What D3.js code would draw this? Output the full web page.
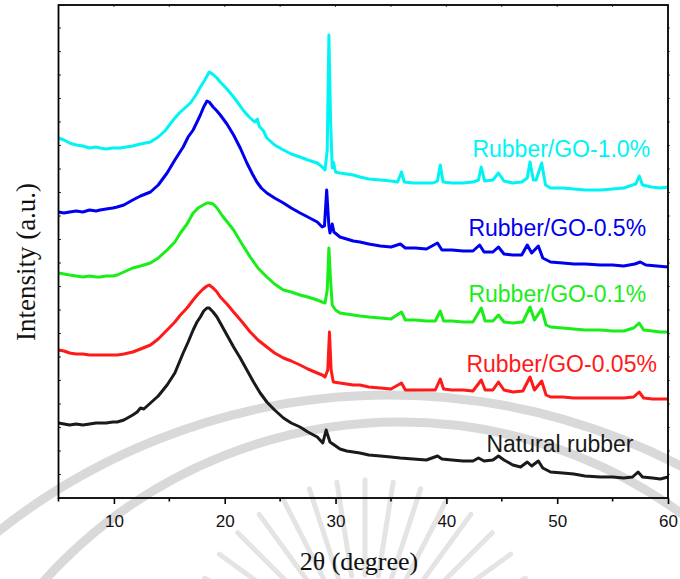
<!DOCTYPE html>
<html><head><meta charset="utf-8">
<script src="https://cdn.jsdelivr.net/npm/d3@7"></script>
<style>body{margin:0;background:#fff}svg{display:block}</style>
</head><body><svg id="c" width="680" height="579"></svg>
<script>
// ---------- DATA (2θ in degrees, intensity in arbitrary units incl. stacking offset) ----------
const seriesNames = ["Natural rubber","Rubber/GO-0.05%","Rubber/GO-0.1%","Rubber/GO-0.5%","Rubber/GO-1.0%"];
const seriesColors = ["#1a1a1a","#ff1a1a","#1aee1a","#0000ee","#00f4f4"];
const xTickValues = [10,20,30,40,50,60];
const xTickLabels = ["10","20","30","40","50","60"];

const naturalRubber = [[5.0,75],[5.5,74],[6.0,73],[6.6,74],[7.2,73],[7.8,74],[8.4,75],[8.75,75],[9.3,75],[9.9,76],[10.3,76],[10.9,78],[11.7,83],[12.1,86],[12.4,90],[12.7,89],[13.3,95],[14.0,102],[14.8,113],[15.5,125],[16.25,145],[16.7,156],[17.15,168],[17.5,176],[17.8,181],[18.1,187],[18.4,190],[18.6,190],[18.95,186],[19.3,181],[19.6,175],[20.2,163],[20.8,151],[21.4,140],[22.0,128],[22.6,116],[23.2,105],[23.8,96],[24.5,88],[25.3,80],[26.0,75],[26.8,71],[27.5,66],[28.35,61],[28.85,55],[29.15,68],[29.35,61],[29.5,56],[30.4,49],[31.0,47],[31.6,46],[32.2,45],[33.0,43],[34.05,42],[35.0,41],[35.85,40],[37.0,39],[38.2,38],[39.2,42],[39.6,39],[40.5,38],[41.5,37],[42.4,37],[42.9,40],[43.4,37],[44.2,38],[44.7,42],[45.2,38],[46.0,33],[46.7,31],[47.3,36],[47.7,32],[48.3,37],[48.7,30],[49.4,26],[50.5,25],[51.5,24],[52.5,22],[53.9,21],[55.0,21],[56.0,20],[56.8,21],[57.3,26],[57.7,21],[58.6,20],[59.3,19],[60.0,21]];

const rubberGO005 = [[5.0,148],[5.5,147],[6.0,145],[6.6,144],[7.2,144],[7.8,143],[8.4,143],[8.75,143],[9.3,143],[9.9,143],[10.3,143],[10.9,144],[11.7,146],[12.4,149],[13.3,153],[14.0,159],[14.8,168],[15.5,176],[16.0,183],[16.6,190],[17.15,198],[17.6,204],[18.05,209],[18.4,212],[18.6,213],[18.95,210],[19.3,206],[19.6,201],[20.2,194],[20.8,186],[21.5,177],[22.3,166],[23.0,158],[23.8,151],[24.5,145],[25.3,140],[26.0,137],[26.8,133],[27.5,129],[28.35,125],[28.8,123],[29.05,121],[29.3,128],[29.45,166],[29.6,128],[29.8,116],[30.4,115],[31.0,114],[31.6,113],[32.2,113],[33.0,111],[34.05,110],[35.0,109],[35.95,115],[36.3,108],[37.2,108],[38.2,108],[39.0,108],[39.45,119],[39.75,109],[40.5,108],[41.5,108],[42.4,107],[43.15,118],[43.5,108],[44.2,108],[44.7,116],[45.2,108],[46.0,106],[46.9,107],[47.55,121],[47.95,108],[48.6,117],[49.0,103],[49.4,101],[50.5,101],[51.5,100],[52.5,100],[53.9,100],[55.0,100],[56.0,100],[56.9,101],[57.4,106],[57.8,100],[58.6,99],[59.3,99],[60.0,99]];

const rubberGO01 = [[5.0,225],[5.5,224],[6.0,223],[6.6,222],[7.2,221],[7.8,222],[8.4,221],[8.75,221],[9.3,222],[9.9,222],[10.3,223],[10.9,226],[11.7,230],[12.4,232],[13.3,235],[14.0,240],[14.8,248],[15.5,256],[16.0,265],[16.6,274],[17.15,285],[17.6,290],[18.05,293],[18.4,295],[18.6,295],[18.95,294],[19.3,290],[19.8,282],[20.8,268],[21.5,255],[22.3,241],[23.0,230],[23.8,221],[24.5,214],[25.3,208],[26.0,206],[26.8,203],[27.5,201],[28.35,198],[28.8,196],[29.05,195],[29.25,208],[29.4,250],[29.55,218],[29.7,193],[30.0,188],[30.4,185],[31.0,184],[31.6,183],[32.2,182],[33.0,181],[34.05,180],[35.0,179],[35.95,186],[36.3,178],[37.2,178],[38.2,177],[39.0,177],[39.45,187],[39.75,177],[40.5,177],[41.5,176],[42.4,176],[43.15,190],[43.5,177],[44.2,177],[44.7,183],[45.2,176],[46.0,175],[46.9,176],[47.55,191],[47.95,178],[48.6,189],[49.0,173],[49.4,171],[50.5,170],[51.5,169],[52.5,168],[53.9,168],[55.0,167],[56.0,167],[56.9,170],[57.4,175],[57.8,168],[58.6,167],[59.3,166],[60.0,166]];

const rubberGO05 = [[5.0,286],[5.5,285],[6.0,286],[6.6,287],[7.2,286],[7.8,288],[8.4,287],[8.75,288],[9.3,289],[9.9,290],[10.3,291],[10.9,293],[11.7,298],[12.4,302],[13.3,306],[14.0,313],[14.8,325],[15.5,338],[16.25,351],[16.7,361],[17.15,368],[17.5,376],[17.8,383],[18.1,391],[18.4,397],[18.6,396],[18.95,391],[19.3,387],[19.6,383],[20.2,374],[20.8,363],[21.4,350],[22.0,335],[22.5,324],[22.9,316],[23.3,310],[23.8,305],[24.5,300],[25.3,295],[26.0,290],[26.8,285],[27.5,281],[28.35,276],[28.8,271],[29.0,272],[29.2,308],[29.4,272],[29.5,265],[29.7,274],[29.85,266],[30.4,261],[31.0,259],[31.6,257],[32.2,256],[33.0,254],[34.05,252],[35.0,251],[35.85,254],[36.3,250],[37.2,250],[38.2,249],[39.2,255],[39.6,248],[40.5,248],[41.5,247],[42.4,247],[43.0,253],[43.4,246],[44.2,246],[44.7,251],[45.2,244],[46.0,243],[46.8,243],[47.3,253],[47.7,245],[48.3,252],[48.7,240],[49.4,236],[50.5,235],[51.5,234],[52.5,234],[53.9,233],[55.0,233],[56.0,232],[57.0,234],[57.5,236],[58.0,233],[59.0,232],[60.0,231]];

const rubberGO10 = [[5.0,360],[5.5,358],[6.0,355],[6.6,353],[7.2,352],[7.8,350],[8.4,351],[8.75,350],[9.3,349],[9.9,350],[10.55,350],[11.1,351],[11.7,352],[12.4,354],[13.3,356],[14.0,361],[14.6,367],[15.35,378],[15.9,385],[16.4,390],[16.9,395],[17.4,403],[17.8,411],[18.2,418],[18.45,423],[18.6,426],[18.75,425],[19.0,423],[19.3,420],[19.6,416],[20.2,409],[20.8,401],[21.2,395],[21.65,388],[22.2,381],[22.7,376],[22.95,379],[23.1,372],[23.5,367],[23.8,360],[24.5,353],[25.3,348],[26.0,344],[26.8,341],[27.5,338],[28.35,335],[28.8,331],[29.05,328],[29.25,348],[29.4,463],[29.55,378],[29.7,330],[29.8,336],[30.0,326],[30.4,325],[31.0,324],[31.6,323],[32.2,321],[33.0,319],[34.05,318],[35.0,317],[35.6,316],[35.95,326],[36.2,316],[37.0,315],[38.0,315],[38.8,315],[39.2,317],[39.45,333],[39.7,316],[40.5,315],[41.5,315],[42.4,316],[42.9,318],[43.15,331],[43.45,317],[44.2,318],[44.7,325],[45.2,317],[46.0,315],[46.8,316],[47.3,320],[47.55,336],[47.85,318],[48.1,318],[48.6,335],[48.95,313],[49.4,310],[50.5,310],[51.5,309],[52.5,308],[53.9,308],[55.0,309],[56.0,310],[56.8,313],[57.1,314],[57.4,322],[57.7,313],[58.5,311],[59.3,310],[60.0,311]];

const seriesData = [naturalRubber, rubberGO005, rubberGO01, rubberGO05, rubberGO10];

// ---------- LAYOUT ----------
const M = {left:58.5, right:668, top:5, bottom:498};
const labelPos = [[43.62,46],[41.81,126],[41.99,196],[41.99,262],[42.35,341]]; // [2θ, intensity] of label baseline start

const svg = d3.select("#c");
const x = d3.scaleLinear().domain([5,60]).range([M.left, M.right]);
const y = d3.scaleLinear().domain([0,493]).range([M.bottom, M.top]);

// ---------- watermark (faint background seal) ----------
const wm = svg.append("g").attr("fill","none");
wm.append("circle").attr("cx",390).attr("cy",1025).attr("r",630).attr("stroke","#d9d9d9").attr("stroke-width",9);
wm.append("circle").attr("cx",400).attr("cy",900).attr("r",478).attr("stroke","#d9d9d9").attr("stroke-width",9);
const rayAngles = d3.range(-162,-17,9);
wm.selectAll("line.ray").data(rayAngles).join("line")
  .attr("x1",a=>365+85*Math.cos(a*Math.PI/180)).attr("y1",a=>660+85*Math.sin(a*Math.PI/180))
  .attr("x2",a=>365+180*Math.cos(a*Math.PI/180)).attr("y2",a=>660+180*Math.sin(a*Math.PI/180))
  .attr("stroke","#e4e4e4").attr("stroke-width",5).attr("stroke-linecap","round");

// ---------- lines ----------
const line = d3.line().x(d=>x(d[0])).y(d=>y(d[1]));
svg.append("g").selectAll("path").data(seriesData).join("path")
  .attr("d",line).attr("fill","none")
  .attr("stroke",(d,i)=>seriesColors[i]).attr("stroke-width",3)
  .attr("stroke-linejoin","round");

// ---------- labels ----------
svg.append("g").selectAll("text").data(seriesNames).join("text")
  .attr("x",(d,i)=>x(labelPos[i][0])).attr("y",(d,i)=>y(labelPos[i][1]))
  .attr("fill",(d,i)=>seriesColors[i])
  .attr("font-family","'Liberation Sans', Arial, sans-serif").attr("font-size",23)
  .text(d=>d);

// ---------- axes ----------
const bottom = svg.append("g").attr("transform",`translate(0,${M.bottom})`)
  .call(d3.axisBottom(x).tickValues(xTickValues).tickFormat((d,i)=>xTickLabels[i]).tickSize(6).tickPadding(11));
bottom.select(".domain").remove();
bottom.selectAll("line").attr("stroke","#000").attr("stroke-width",1.6);
bottom.selectAll("text").attr("font-family","'Liberation Sans', Arial, sans-serif").attr("font-size",17).attr("fill","#111");
const minor = d3.range(5,60,10);
svg.append("g").selectAll("line").data(minor).join("line")
  .attr("x1",d=>x(d)).attr("x2",d=>x(d)).attr("y1",M.bottom).attr("y2",M.bottom+3.5)
  .attr("stroke","#000").attr("stroke-width",1.6);
svg.append("g").selectAll("line").data(d3.range(10,60,5)).join("line")
  .attr("x1",d=>x(d)).attr("x2",d=>x(d)).attr("y1",M.top).attr("y2",M.top+2)
  .attr("stroke","#444").attr("stroke-width",1);
const yT = d3.range(23.5,493,23.5);
svg.append("g").selectAll("line").data(yT).join("line")
  .attr("x1",M.left).attr("x2",M.left+2.5).attr("y1",d=>y(d)).attr("y2",d=>y(d))
  .attr("stroke","#333").attr("stroke-width",1);
svg.append("g").selectAll("line").data(yT).join("line")
  .attr("x1",M.right).attr("x2",M.right+2).attr("y1",d=>y(d)).attr("y2",d=>y(d))
  .attr("stroke","#666").attr("stroke-width",1);

svg.append("rect").attr("x",M.left).attr("y",M.top).attr("width",M.right-M.left).attr("height",M.bottom-M.top)
  .attr("fill","none").attr("stroke","#000").attr("stroke-width",1.8);

svg.append("text").attr("x",359).attr("y",570).attr("text-anchor","middle")
  .attr("font-family","'Liberation Serif','Times New Roman',serif").attr("font-size",26).attr("fill","#111")
  .text("2θ (degree)");
svg.append("text").attr("transform","translate(35,262) rotate(-90)").attr("text-anchor","middle")
  .attr("font-family","'Liberation Serif','Times New Roman',serif").attr("font-size",27).attr("fill","#111")
  .text("Intensity (a.u.)");
</script></body></html>
